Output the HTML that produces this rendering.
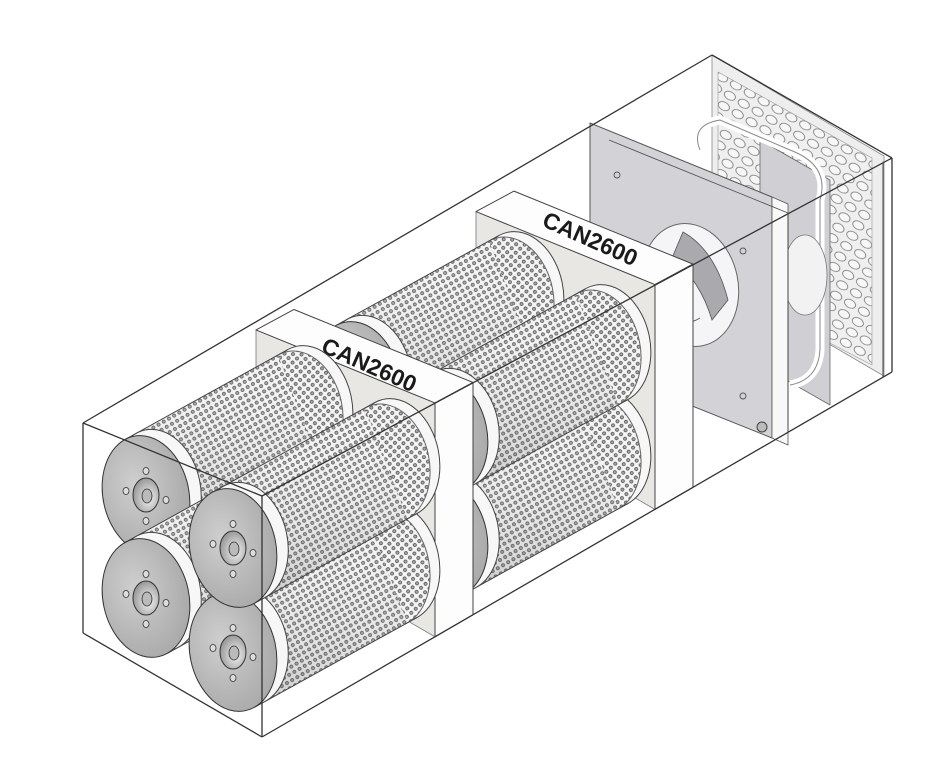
<!DOCTYPE html>
<html><head><meta charset="utf-8"><style>html,body{margin:0;padding:0;background:#fff}svg{display:block}</style></head>
<body>
<svg id="s" width="949" height="768" viewBox="0 0 949 768" xmlns="http://www.w3.org/2000/svg">
<defs>
<pattern id="dots" width="6" height="6" patternUnits="userSpaceOnUse" patternTransform="rotate(-30)">
<rect width="6" height="6" fill="#f4f4f4"/>
<circle cx="3" cy="3" r="1.6" fill="#a8a8a8" stroke="#3a3a3a" stroke-width="0.6"/>
</pattern>
<pattern id="grille" width="16" height="12" patternUnits="userSpaceOnUse" patternTransform="rotate(30)">
<rect width="16" height="12" fill="#efefef"/>
<ellipse cx="8" cy="6" rx="6" ry="4" fill="#f7f7f7" stroke="#777" stroke-width="0.8"/>
</pattern>
<radialGradient id="disk" cx="0.4" cy="0.4" r="0.7">
<stop offset="0" stop-color="#cfcfcf"/><stop offset="1" stop-color="#a6a6a6"/>
</radialGradient>
<radialGradient id="hub" cx="0.6" cy="0.6" r="0.6">
<stop offset="0" stop-color="#f4f4f4"/><stop offset="1" stop-color="#9a9a9a"/>
</radialGradient>
<linearGradient id="shade" x1="0" y1="0" x2="0" y2="1">
<stop offset="0" stop-color="#fff" stop-opacity="0"/><stop offset="1" stop-color="#555" stop-opacity="0.25"/>
</linearGradient>
</defs>
<g id="root"></g>
</svg>
<script>
var NS="http://www.w3.org/2000/svg",root=document.getElementById('root');
function el(t,a,p){var e=document.createElementNS(NS,t);for(var k in a)e.setAttribute(k,a[k]);(p||root).appendChild(e);return e;}
function poly(pts,fill,stroke,sw){return el('polygon',{points:pts.map(function(p){return p.join(',')}).join(' '),fill:fill,stroke:stroke||'none','stroke-width':sw||1,'stroke-linejoin':'round'});}
function line(x1,y1,x2,y2,c,w){return el('line',{x1:x1,y1:y1,x2:x2,y2:y2,stroke:c||'#333','stroke-width':w||1.2});}
function yt(x){return 496-0.538*(x-262);}
function yb(x){return 737-0.579*(x-262);}

// End section interior (grille)
poly([[712,55],[884,156],[884,376],[712,276]],'#eeeeee','#888',0.8);
poly([[718,72],[872,158],[872,365],[718,285]],'url(#grille)','#999',0.6);
// motor / fan housing
poly([[760,140],[830,180],[830,405],[760,365]],'#d0d0d4','#666',0.8);
el('path',{d:'M700 150 Q690 125 720 120 L790 150 Q830 165 820 200 L820 350 Q818 380 790 385',fill:'none',stroke:'#fff','stroke-width':9});
el('path',{d:'M700 150 Q690 125 720 120 L790 150 Q830 165 820 200 L820 350 Q818 380 790 385',fill:'none',stroke:'#888','stroke-width':1});
el('ellipse',{cx:805,cy:275,rx:22,ry:40,fill:'#f2f2f2',stroke:'#777','stroke-width':0.8});

// Fan plate
poly([[590,123],[772,197],[772,438],[590,365]],'#d3d3d7','#555',1);
el('ellipse',{cx:690,cy:285,rx:48,ry:62,transform:'rotate(-12 690 285)',fill:'#f5f5f7',stroke:'#666','stroke-width':1});
el('path',{d:'M683 232 Q715 250 728 300 L712 320 Q700 280 672 258 Z',fill:'#a9a9ae',stroke:'#555','stroke-width':0.8});
el('path',{d:'M700 318 Q680 330 668 312',fill:'none',stroke:'#555','stroke-width':0.8});
[[617,175],[743,251],[743,396]].forEach(function(p){el('circle',{cx:p[0],cy:p[1],r:3,fill:'none',stroke:'#555','stroke-width':0.9});});
el('circle',{cx:762,cy:427,r:5,fill:'#bbb',stroke:'#444','stroke-width':1});
poly([[772,197],[788,204],[788,445],[772,438]],'#f8f8f8','#555',0.8);

function divider(xa,xb,label,lx,ly){
  poly([[xa-179,yt(xa)-73],[xa,yt(xa)],[xa,yb(xa)],[xa-179,yb(xa)-104]],'#e8e7e3','#777',0.8);
  poly([[xa-179,yt(xa)-73],[xa,yt(xa)],[xb,yt(xb)],[xb-179,yt(xb)-73]],'#fdfdfd','#444',1);
  poly([[xa,yt(xa)],[xb,yt(xb)],[xb,yb(xb)],[xa,yb(xa)]],'#fdfdfd','#444',1);
  if(label){var t=el('text',{x:lx,y:ly,'font-family':'Liberation Sans, sans-serif','font-size':23,'font-weight':'bold',fill:'#1a1a1a','text-anchor':'middle',transform:'rotate(24 '+lx+' '+ly+')'});t.textContent=label;}
}

var V=[163,-90],T=[21.2,55.4];
function ell(x,y,f,s){return el('ellipse',{cx:x,cy:y,rx:43,ry:60,transform:'rotate(-12 '+x+' '+y+')',fill:f,stroke:s||'none','stroke-width':1});}
function cyl(cx,cy,detail){
  var bx=cx+V[0],by=cy+V[1];
  var ix=bx-V[0]*0.06,iy=by-V[1]*0.06;
  ell(bx,by,'#f7f7f7','#444');
  ell(ix,iy,'url(#dots)','#666');
  poly([[cx+T[0],cy+T[1]],[ix+T[0],iy+T[1]],[ix-T[0],iy-T[1]],[cx-T[0],cy-T[1]]],'url(#dots)','none');
  poly([[cx+T[0],cy+T[1]],[ix+T[0],iy+T[1]],[ix-T[0],iy-T[1]],[cx-T[0],cy-T[1]]],'url(#shade)','none');
  line(cx+T[0],cy+T[1],bx+T[0],by+T[1],'#444',1);
  line(cx-T[0],cy-T[1],bx-T[0],by-T[1],'#444',1);
  var fx=cx+V[0]*0.07,fy=cy+V[1]*0.07;
  ell(fx,fy,'#f7f7f7','#444');
  ell(cx,cy,'url(#disk)','#333');
  if(detail){
    el('ellipse',{cx:cx,cy:cy,rx:13,ry:17,fill:'url(#hub)',stroke:'#333','stroke-width':1});
    el('ellipse',{cx:cx+1,cy:cy+1,rx:5,ry:7,fill:'#bbb',stroke:'#333','stroke-width':0.8});
    [[0,-24],[0,26],[-20,-4],[20,5]].forEach(function(d){el('ellipse',{cx:cx+d[0],cy:cy+d[1],rx:3,ry:3.5,fill:'#ddd',stroke:'#333','stroke-width':0.8});});
  }
}

divider(655,693,'CAN2600',587,246);
var o=[211,-114];
cyl(146+o[0],495+o[1]);cyl(146+o[0],598+o[1]);cyl(233+o[0],652+o[1]);cyl(233+o[0],548+o[1]);
divider(435,473,'CAN2600',366,372);
cyl(146,495,1);cyl(146,598,1);cyl(233,652,1);cyl(233,548,1);

[[83,423,712,55],[262,496,892,158],[262,737,892,372],[83,423,262,496],[262,496,262,737],[262,737,83,633],[83,633,83,423],[712,55,892,158],[892,158,892,372]].forEach(function(l){line(l[0],l[1],l[2],l[3],'#333',1.3);});
[788,883].forEach(function(x){line(x,yt(x),x,yb(x),'#444',1);});
line(788,213,609,140,'#555',0.9);
</script>
</body></html>
